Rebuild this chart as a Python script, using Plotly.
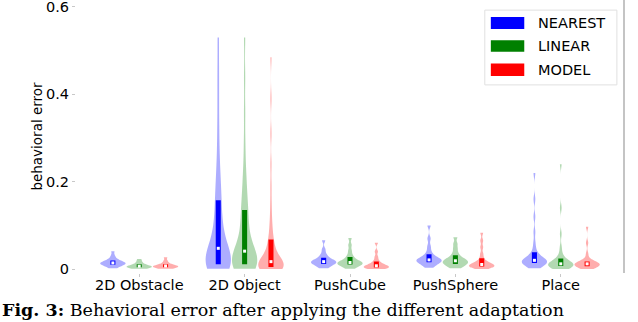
import numpy as np
import plotly.graph_objects as go

categories = ["2D Obstacle", "2D Object", "PushCube", "PushSphere", "Place"]
methods = ["NEAREST", "LINEAR", "MODEL"]

# behavioural error samples (one list per category)
nearest = [
    [0.002, 0.005, 0.007, 0.009, 0.010, 0.011, 0.012, 0.013, 0.014, 0.015, 0.016, 0.017, 0.019, 0.021, 0.025, 0.031, 0.041],
    [0.001, 0.002, 0.003, 0.004, 0.005, 0.006, 0.007, 0.008, 0.009, 0.010,
     0.012, 0.015, 0.018, 0.021, 0.024, 0.027, 0.031, 0.035, 0.040, 0.045,
     0.050, 0.058, 0.066, 0.075, 0.085, 0.095, 0.107, 0.12, 0.135, 0.15,
     0.165, 0.18, 0.20, 0.22, 0.25, 0.29, 0.34, 0.40, 0.46, 0.53],
    [0.002, 0.005, 0.008, 0.010, 0.012, 0.014, 0.015, 0.016, 0.017, 0.018, 0.020, 0.022, 0.025, 0.029, 0.035, 0.045, 0.066],
    [0.003, 0.007, 0.011, 0.014, 0.016, 0.018, 0.019, 0.020, 0.021, 0.023, 0.025, 0.028, 0.032, 0.040, 0.052, 0.070, 0.10],
    [0.002, 0.005, 0.008, 0.010, 0.012, 0.013, 0.014, 0.015, 0.016, 0.017, 0.018, 0.019, 0.020, 0.021, 0.022, 0.024,
     0.027, 0.031, 0.036, 0.045, 0.06, 0.085, 0.12, 0.16, 0.22],
]
linear = [
    [0.001, 0.002, 0.003, 0.004, 0.005, 0.005, 0.006, 0.007, 0.008, 0.009, 0.011, 0.014, 0.018, 0.023],
    [0.001, 0.002, 0.003, 0.004, 0.005, 0.006, 0.007, 0.008, 0.009, 0.010,
     0.012, 0.015, 0.018, 0.021, 0.024, 0.027, 0.030, 0.033, 0.036, 0.039,
     0.043, 0.050, 0.058, 0.066, 0.075, 0.085, 0.096, 0.108, 0.12, 0.13,
     0.14, 0.155, 0.17, 0.19, 0.21, 0.24, 0.29, 0.36, 0.44, 0.53],
    [0.001, 0.004, 0.007, 0.009, 0.011, 0.012, 0.013, 0.014, 0.015, 0.017, 0.019, 0.022, 0.026, 0.032, 0.042, 0.055, 0.071],
    [0.002, 0.005, 0.008, 0.010, 0.012, 0.014, 0.016, 0.017, 0.019, 0.021, 0.023, 0.026, 0.030, 0.037, 0.047, 0.058, 0.073],
    [0.0, 0.002, 0.003, 0.004, 0.005, 0.006, 0.007, 0.008, 0.009, 0.010, 0.011, 0.012, 0.012, 0.013, 0.014, 0.016,
     0.018, 0.020, 0.023, 0.028, 0.036, 0.05, 0.08, 0.14, 0.24],
]
model = [
    [0.001, 0.002, 0.003, 0.004, 0.005, 0.006, 0.007, 0.007, 0.008, 0.009, 0.011, 0.014, 0.019, 0.027],
    [0.0, 0.0005, 0.001, 0.0015, 0.002, 0.0025, 0.003, 0.0035, 0.0038, 0.004,
     0.005, 0.006, 0.007, 0.008, 0.009, 0.010, 0.011, 0.012, 0.014, 0.016,
     0.018, 0.021, 0.025, 0.029, 0.033, 0.038, 0.044, 0.050, 0.056, 0.063,
     0.072, 0.085, 0.10, 0.12, 0.15, 0.19, 0.24, 0.31, 0.39, 0.485],
    [0.0, 0.001, 0.002, 0.003, 0.004, 0.005, 0.006, 0.007, 0.008, 0.010, 0.012, 0.015, 0.020, 0.028, 0.040, 0.060],
    [0.0, 0.002, 0.004, 0.005, 0.006, 0.007, 0.008, 0.009, 0.010, 0.011, 0.013, 0.015, 0.019, 0.025, 0.035, 0.05, 0.065, 0.083],
    [0.0, 0.002, 0.004, 0.005, 0.006, 0.008, 0.009, 0.010, 0.011, 0.012, 0.013, 0.014, 0.015, 0.016, 0.018, 0.022,
     0.035, 0.06, 0.097],
]
bandwidths = [
    [0.004, 0.034, 0.005, 0.006, 0.009],
    [0.003, 0.030, 0.005, 0.005, 0.008],
    [0.003, 0.018, 0.004, 0.005, 0.006],
]

solid = ["rgb(0,0,255)", "rgb(0,128,0)", "rgb(255,0,0)"]
light = ["rgba(0,0,255,0.32)", "rgba(0,128,0,0.3)", "rgba(255,0,0,0.32)"]
offsets = [-0.25, 0.0, 0.25]

fig = go.Figure()
for m, data in enumerate([nearest, linear, model]):
    for c, vals in enumerate(data):
        pos = c + offsets[m]
        fig.add_trace(go.Violin(
            x=[pos] * len(vals), y=vals,
            width=0.24, scalemode="width", spanmode="hard",
            bandwidth=bandwidths[m][c],
            fillcolor=light[m], line=dict(color="rgba(0,0,0,0)", width=0),
            # transparent box line so no whiskers, only the filled quartile bar
            box=dict(visible=True, width=0.2, fillcolor=solid[m], line=dict(color="rgba(0,0,0,0)", width=0)),
            meanline=dict(visible=False), points=False,
            showlegend=False, hoverinfo="skip",
        ))
        fig.add_trace(go.Scatter(
            x=[pos], y=[np.median(vals)], mode="markers",
            marker=dict(symbol="square", size=3, color="white"),
            showlegend=False, hoverinfo="skip",
        ))

# hand drawn legend, matplotlib style
fig.add_shape(type="rect", xref="paper", yref="paper", x0=0.746, x1=0.987, y0=0.689, y1=0.963,
              line=dict(color="#e0e0e0", width=1), fillcolor="white", layer="above")
rows = [(0.938, 0.894), (0.853, 0.810), (0.767, 0.722)]
for m, (ya, yb) in enumerate(rows):
    fig.add_shape(type="rect", xref="paper", yref="paper", x0=0.757, x1=0.818, y0=yb, y1=ya,
                  line=dict(width=0), fillcolor=solid[m], layer="above")
    fig.add_annotation(x=0.840, y=(ya + yb) / 2, xref="paper", yref="paper", text=methods[m],
                       showarrow=False, xanchor="left", yanchor="middle",
                       font=dict(size=14.5, color="black"))

# right spine
fig.add_shape(type="line", xref="paper", yref="paper", x0=1, x1=1, y0=0, y1=1,
              line=dict(color="#b0b0b0", width=1.5))

# caption of the paper figure below the plot
fig.add_annotation(x=-0.139, y=-0.1795, xref="paper", yref="paper", xanchor="left", yanchor="bottom",
                   text="<b>Fig. 3:</b> Behavioral error after applying the different adaptation",
                   showarrow=False, font=dict(family="DejaVu Serif", size=17.5, color="black"))

fig.update_layout(
    width=638, height=322,
    margin=dict(l=76, r=14, t=0, b=49),
    plot_bgcolor="white", paper_bgcolor="white",
    font=dict(family="DejaVu Sans", size=14, color="black"),
)
fig.update_xaxes(range=[-0.6, 4.6], tickvals=list(range(len(categories))), ticktext=categories,
                 showgrid=False, zeroline=False, showline=False, automargin=False,
                 ticklabelstandoff=-4,
                 ticks="outside", ticklen=3, tickcolor="#c8c8c8", tickfont=dict(size=14.5))
fig.update_yaxes(range=[-0.009, 0.616], tickvals=[0, 0.2, 0.4, 0.6], ticktext=["0", "0.2", "0.4", "0.6"],
                 showgrid=False, zeroline=False, showline=False, automargin=False,
                 ticklabeloverflow="allow",
                 ticks="outside", ticklen=3, tickcolor="#c8c8c8", tickfont=dict(size=14.5),
                 title=dict(text="behavioral error", font=dict(size=13.5), standoff=0))

fig.write_html("out.html", config={"displayModeBar": False},
               post_script="document.body.style.margin='0';")
